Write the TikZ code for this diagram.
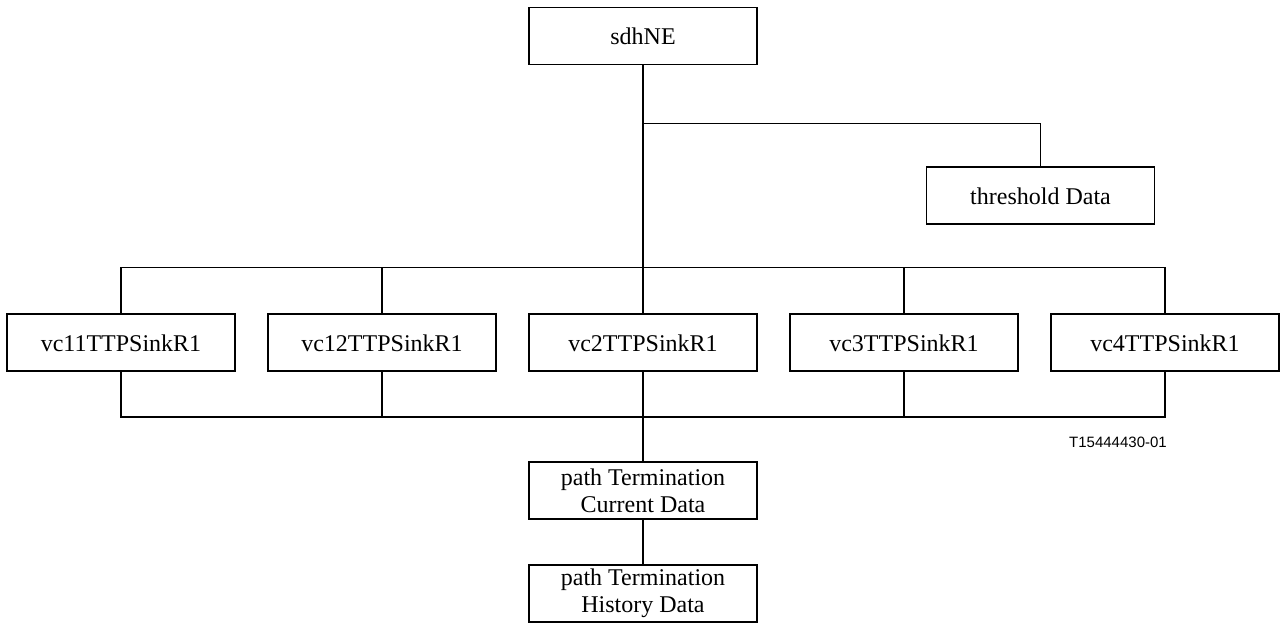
\documentclass[tikz,border=0pt]{standalone}
\usepackage{fontspec}
\setmainfont{Liberation Serif}
\newfontfamily\figfont{Liberation Sans}
\usetikzlibrary{positioning}
\tikzset{
  mobox/.style ={draw,line width=0.9pt,align=center,minimum width=114pt,minimum height=28.5pt,
                 inner sep=1pt,font=\fontsize{12}{13.5}\selectfont},
  link/.style  ={line width=0.75pt},
  figtag/.style={inner sep=0pt,font=\figfont\fontsize{7.5}{9}\selectfont}
}
\begin{document}
\begin{tikzpicture}
    \useasboundingbox (0,0) rectangle (640.5pt,311.5pt);
    \node[mobox] (sdhne) at (321.5pt,293.5pt) {sdhNE};
    \node[mobox,below=50.5pt of sdhne,xshift=198.75pt] (thresh) {threshold Data};
    \node[mobox,below=124pt of sdhne] (vc2)  {vc2TTPSinkR1};
    \node[mobox,left=15.6pt of vc2]     (vc12) {vc12TTPSinkR1};
    \node[mobox,left=15.6pt of vc12]    (vc11) {vc11TTPSinkR1};
    \node[mobox,right=15.6pt of vc2]    (vc3)  {vc3TTPSinkR1};
    \node[mobox,right=15.6pt of vc3]    (vc4)  {vc4TTPSinkR1};
    \node[mobox,below=44.5pt of vc2]    (curr) {path Termination\\Current Data};
    \node[mobox,below=22pt of curr]     (hist) {path Termination\\History Data};
    \node[figtag,below=32pt of vc4,xshift=-23.5pt] (figid) {T15444430-01};
    \coordinate[below=29pt of sdhne] (split);
    % containment tree
    \draw[link] (sdhne) -- (vc2);
    \draw[link] (split) -| (thresh);
    \draw[link] (vc11.north) -- ++(0,23pt) -| (vc4.north);
    \draw[link] (vc11.south) -- ++(0,-22.5pt) -| (vc4.south);
    \foreach \n in {vc12,vc3}{
      \draw[link] (\n.north) -- ++(0,23pt);
      \draw[link] (\n.south) -- ++(0,-22.5pt);
    }
    \draw[link] (vc2) -- (curr);
    \draw[link] (curr) -- (hist);
\end{tikzpicture}
\end{document}
